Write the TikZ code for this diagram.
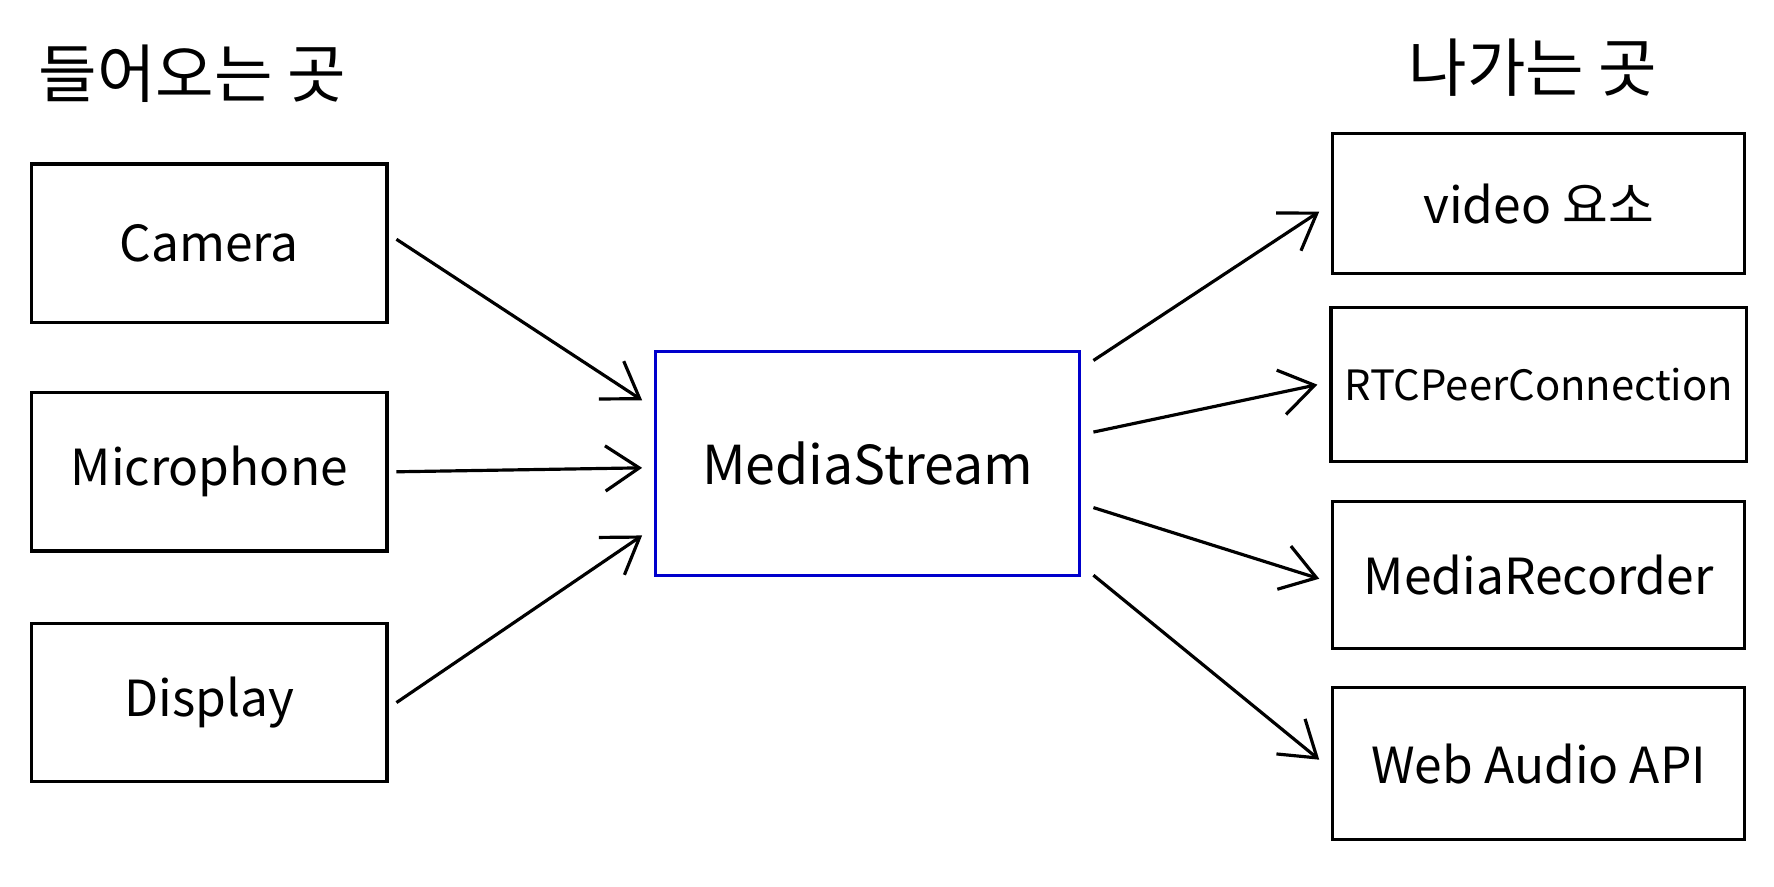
\documentclass[tikz,border=0pt]{standalone}
\usepackage{fontspec}
\setmainfont{Noto Sans CJK KR}
\usetikzlibrary{arrows.meta, positioning}

\begin{document}
\begin{tikzpicture}[
  x=0.1mm, y=-0.1mm,
  >={Straight Barb[length=3mm, width=4mm]},
  srcbox/.style={draw, thick, rectangle, minimum width=3.14cm, minimum height=1.4cm, font=\fontsize{12.5}{15}\selectfont},
  hubbox/.style={draw=blue!80!black, thick, rectangle, minimum width=3.75cm, minimum height=1.98cm, font=\fontsize{13.5}{16}\selectfont},
  dstbox/.style={draw, thick, rectangle, minimum width=3.64cm, minimum height=1.3cm, font=\fontsize{12.5}{15}\selectfont},
  title/.style={font=\fontsize{16}{19}\selectfont},
  flow/.style={->, thick}
]
\useasboundingbox (0,0) rectangle (1568,784);

\node[title] (InTitle) at (170,65) {들어오는 곳};
\node[title] (OutTitle) at (1355,60) {나가는 곳};

\node[srcbox] (Camera) at (185,215) {Camera};
\node[srcbox] (Mic) at (185,417) {Microphone};
\node[srcbox] (Display) at (185,621) {Display};

\node[hubbox] (Stream) at (767,410) {MediaStream};

\node[dstbox, minimum height=1.24cm] (Video) at (1360,180) {video 요소};
\node[dstbox, minimum height=1.36cm, font=\fontsize{10.5}{12}\selectfont] (RTC) at (1360,340) {RTCPeerConnection};
\node[dstbox] (Recorder) at (1360,508) {MediaRecorder};
\node[dstbox, minimum height=1.34cm] (WebAudio) at (1360,675) {Web Audio API};

\draw[flow] ([xshift=2pt,yshift=1pt]Camera.east) -- ([xshift=-3pt,yshift=16pt]Stream.west);
\draw[flow] ([xshift=2pt]Mic.east) -- ([xshift=-3pt,yshift=-1pt]Stream.west);
\draw[flow] ([xshift=2pt]Display.east) -- ([xshift=-3pt,yshift=-18pt]Stream.west);

\draw[flow] ([xshift=3pt,yshift=26pt]Stream.east) -- ([xshift=-3pt,yshift=-2pt]Video.west);
\draw[flow] ([xshift=3pt,yshift=8pt]Stream.east) -- ([xshift=-3pt,yshift=0pt]RTC.west);
\draw[flow] ([xshift=3pt,yshift=-11pt]Stream.east) -- ([xshift=-3pt,yshift=-1pt]Recorder.west);
\draw[flow] ([xshift=3pt,yshift=-28pt]Stream.east) -- ([xshift=-3pt,yshift=1pt]WebAudio.west);
\end{tikzpicture}
\end{document}
